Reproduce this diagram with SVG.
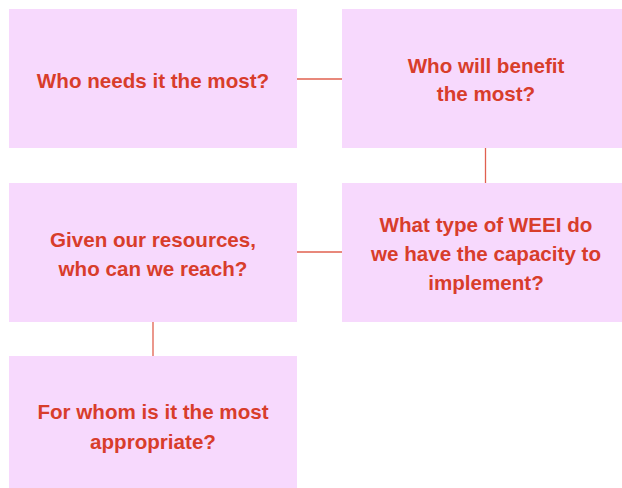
<svg xmlns="http://www.w3.org/2000/svg" width="622" height="488" viewBox="0 0 622 488">
<style>
.box{fill:#f7d9fd}
.t{font-family:"Liberation Sans",Arial,sans-serif;font-weight:bold;font-size:20.6px;fill:#d83d2b;text-anchor:middle}
.c{stroke:#e0604f;stroke-width:1.3;fill:none}
</style>
<rect width="622" height="488" fill="#ffffff"/>
<g id="connectors">
<line class="c" x1="297" y1="79" x2="342" y2="79"/>
<line class="c" x1="485.5" y1="148" x2="485.5" y2="183"/>
<line class="c" x1="297" y1="252" x2="342" y2="252"/>
<line class="c" x1="153" y1="322" x2="153" y2="356"/>
</g>
<g id="n1">
<rect class="box" x="9" y="9" width="288" height="139"/>
<text class="t" x="153" y="88">Who needs it the most?</text>
</g>
<g id="n2">
<rect class="box" x="342" y="9" width="288" height="139"/>
<text class="t" x="486" y="72.7">Who will benefit</text>
<text class="t" x="486" y="101">the most?</text>
</g>
<g id="n3">
<rect class="box" x="9" y="183" width="288" height="139"/>
<text class="t" x="153" y="246.5">Given our resources,</text>
<text class="t" x="153" y="275.5">who can we reach?</text>
</g>
<g id="n4">
<rect class="box" x="342" y="183" width="288" height="139"/>
<text class="t" x="486" y="232.3">What type of WEEI do</text>
<text class="t" x="486" y="261">we have the capacity to</text>
<text class="t" x="486" y="290">implement?</text>
</g>
<g id="n5">
<rect class="box" x="9" y="356" width="288" height="139"/>
<text class="t" x="153" y="419.3">For whom is it the most</text>
<text class="t" x="153" y="448.7">appropriate?</text>
</g>
</svg>
